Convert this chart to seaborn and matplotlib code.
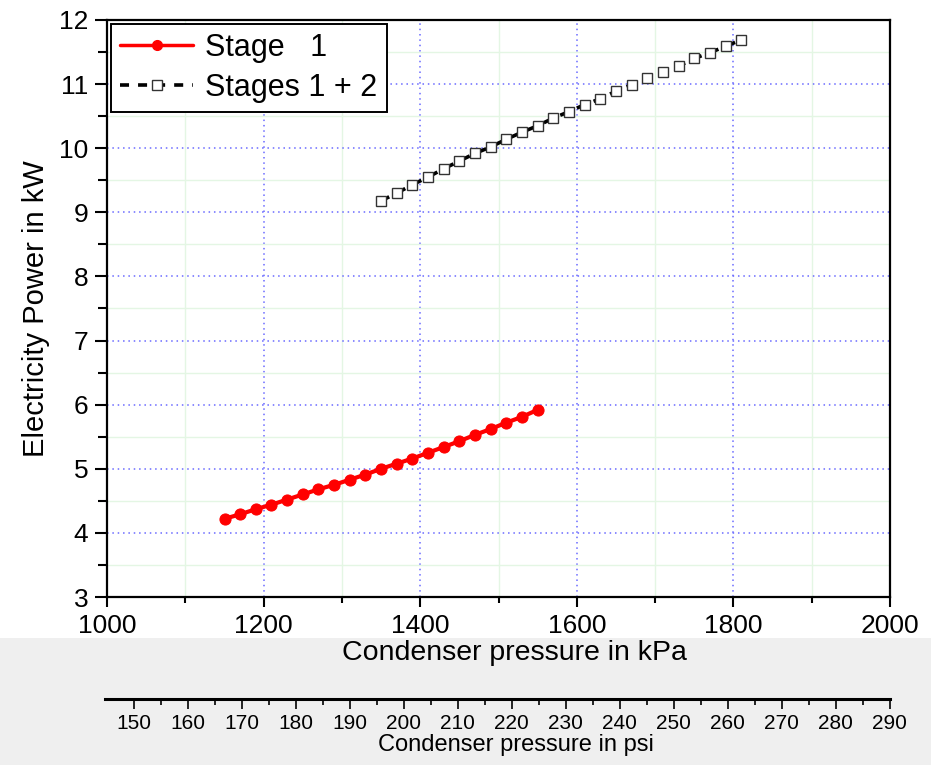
import pandas as pd
import numpy as np
import seaborn as sns
import matplotlib.pyplot as plt
from matplotlib.ticker import MultipleLocator
from matplotlib.lines import Line2D
from matplotlib.patches import Rectangle

# data
stage1_kpa = [1150, 1170, 1190, 1210, 1230, 1250, 1270, 1290, 1310, 1330, 1350,
              1370, 1390, 1410, 1430, 1450, 1470, 1490, 1510, 1530, 1550]
stage1_kw = [4.22, 4.29, 4.37, 4.44, 4.52, 4.60, 4.68, 4.75, 4.83, 4.91, 5.00,
             5.08, 5.16, 5.25, 5.34, 5.43, 5.53, 5.62, 5.72, 5.81, 5.92]
stage12_kpa = [1350, 1370, 1390, 1410, 1430, 1450, 1470, 1490, 1510, 1530, 1550, 1570,
               1590, 1610, 1630, 1650, 1670, 1690, 1710, 1730, 1750, 1770, 1790, 1810]
stage12_kw = [9.18, 9.30, 9.43, 9.55, 9.68, 9.80, 9.92, 10.02, 10.14, 10.25, 10.35, 10.47,
              10.57, 10.68, 10.77, 10.89, 10.99, 11.09, 11.19, 11.28, 11.40, 11.49, 11.59, 11.69]
psi_ticks = list(range(150, 300, 10))
KPA_PER_PSI = 6.894757

df1 = pd.DataFrame({"kpa": stage1_kpa, "kw": stage1_kw})
df2 = pd.DataFrame({"kpa": stage12_kpa, "kw": stage12_kw})

sns.set_theme(style="ticks")
plt.rcParams["font.family"] = ["Liberation Sans", "DejaVu Sans"]
for k in ["text.color", "axes.labelcolor", "xtick.color", "ytick.color", "axes.edgecolor"]:
    plt.rcParams[k] = "black"

fig = plt.figure(figsize=(9.31, 7.65), dpi=100)
# grey strip behind the lower labels
fig.patches.append(Rectangle((0, 0), 1, 0.166, transform=fig.transFigure,
                             facecolor="#efefef", edgecolor="none", zorder=-5))

ax = fig.add_axes([0.115, 0.2196, 0.841, 0.7543])
sns.lineplot(data=df1, x="kpa", y="kw", ax=ax, color="red", lw=3,
             marker="o", markersize=8, markeredgecolor="red")
sns.lineplot(data=df2, x="kpa", y="kw", ax=ax, color="black", lw=2.6,
             linestyle=(0, (2.5, 2.5)), marker="s", markersize=7,
             markerfacecolor="white", markeredgecolor="#333333", markeredgewidth=1.0)

ax.set_xlim(1000, 2000)
ax.set_ylim(3, 12)
ax.xaxis.set_major_locator(MultipleLocator(200))
ax.xaxis.set_minor_locator(MultipleLocator(100))
ax.yaxis.set_major_locator(MultipleLocator(1))
ax.yaxis.set_minor_locator(MultipleLocator(0.5))
ax.grid(which="major", color="#6a6aff", linestyle=(0, (1, 2.5)), linewidth=1.1)
ax.grid(which="minor", color="#e4f6e4", linestyle="-", linewidth=1.0)
ax.set_axisbelow(True)
ax.tick_params(which="both", direction="out", width=1.5, labelsize=19)
ax.tick_params(axis="x", which="major", length=7.5, pad=5)
ax.tick_params(axis="x", which="minor", length=4.5)
ax.tick_params(axis="y", which="major", length=8.6, pad=5)
ax.tick_params(axis="y", which="minor", length=6.5)
for s in ax.spines.values():
    s.set_linewidth(1.6)
ax.set_xlabel("")
ax.set_ylabel("Electricity Power in kW", fontsize=21, labelpad=6)

handles = [Line2D([], [], color="red", lw=2.5, marker="o", markersize=7),
           Line2D([], [], color="black", lw=2.6, linestyle=(0, (2.5, 2.5)), marker="s",
                  markersize=7, markerfacecolor="white", markeredgecolor="#333333")]
leg = ax.legend(handles, ["Stage   1", "Stages 1 + 2"], loc="upper left", fontsize=22,
                fancybox=False, framealpha=1, edgecolor="black", borderaxespad=0.12,
                handlelength=2.4, labelspacing=0.32, borderpad=0.3, handletextpad=0.4)
leg.get_frame().set_linewidth(1.4)

fig.text(0.553, 0.146, "Condenser pressure in kPa", ha="center", va="center", fontsize=20.5)

# psi scale under the main axis
axp = fig.add_axes([0.115, 0.0863, 0.841, 0.001])
axp.set_xlim(1000 / KPA_PER_PSI, 2000 / KPA_PER_PSI)
axp.set_ylim(0, 1)
axp.set_facecolor("none")
for side in ["top", "left", "right"]:
    axp.spines[side].set_visible(False)
axp.spines["bottom"].set_linewidth(2.2)
axp.spines["bottom"].set_bounds(1000 / KPA_PER_PSI - 0.4, 290)
axp.set_yticks([])
axp.set_xticks(psi_ticks)
axp.xaxis.set_minor_locator(MultipleLocator(5))
axp.tick_params(which="both", direction="out", labelsize=15, width=1.2, length=7, pad=4)
axp.tick_params(which="minor", length=4)

fig.text(0.554, 0.026, "Condenser pressure in psi", ha="center", va="center", fontsize=17)

fig.savefig("out.png", dpi=100)
